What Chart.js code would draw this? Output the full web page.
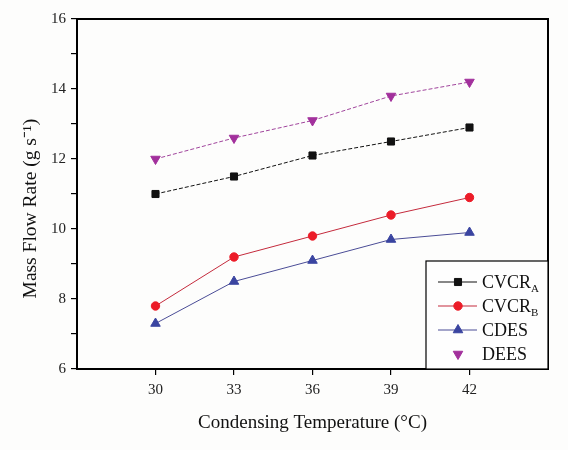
<!DOCTYPE html>
<html>
<head>
<meta charset="utf-8">
<script src="https://cdn.jsdelivr.net/npm/chart.js@4.4.0/dist/chart.umd.min.js"></script>
<style>
  body { margin: 0; background: #fdfdfc; }
  #wrap { width: 568px; height: 450px; }
</style>
</head>
<body>
<div id="wrap"><canvas id="flow" width="568" height="450"></canvas></div>

<script>
// condensing temperature (oC) on x, mass flow rate (g/s) on y
var temps = [30, 33, 36, 39, 42];
var xTicks = [30, 33, 36, 39, 42];
var cvcrA = [11.0, 11.5, 12.1, 12.5, 12.9];
var cvcrB = [7.8, 9.2, 9.8, 10.4, 10.9];
var cdes  = [7.3, 8.5, 9.1, 9.7, 9.9];
var dees  = [12.0, 12.6, 13.1, 13.8, 14.2];
var legendMain = ['CVCR', 'CVCR', 'CDES', 'DEES'];
var legendSub  = ['A', 'B', '', ''];

var serif = '"Liberation Serif", "Times New Roman", serif';

function pts(vals) {
    return temps.map(function (t, i) { return { x: t, y: vals[i] }; });
}

// frame round the plot + legend with subscripts
var framePlugin = {
    id: 'frame',
    afterDraw: function (chart) {
        var ctx = chart.ctx;
        var a = chart.chartArea;
        ctx.save();
        ctx.strokeStyle = '#000';
        ctx.lineWidth = 2;
        ctx.strokeRect(a.left, a.top, a.right - a.left, a.bottom - a.top);

        // legend box
        var bw = 122, bh = 108;
        var bx = a.right - bw, by = a.bottom - bh;
        ctx.fillStyle = '#fefefe';
        ctx.fillRect(bx, by, bw, bh);
        ctx.lineWidth = 1.2;
        ctx.strokeRect(bx, by, bw, bh);

        chart.data.datasets.forEach(function (ds, i) {
            var y = by + 21 + i * 24;
            if (i < 3) {
                ctx.strokeStyle = ds.borderColor;
                ctx.lineWidth = 1;
                ctx.setLineDash([]);
                ctx.beginPath();
                ctx.moveTo(bx + 12, y);
                ctx.lineTo(bx + 51, y);
                ctx.stroke();
            }
            ctx.fillStyle = ds.pointBackgroundColor;
            ctx.strokeStyle = ds.pointBackgroundColor;
            Chart.helpers.drawPoint(ctx, {
                pointStyle: ds.pointStyle,
                rotation: ds.pointRotation || 0,
                radius: ds.pointRadius,
                borderWidth: 1
            }, bx + 32, y);

            ctx.fillStyle = '#111';
            ctx.textBaseline = 'middle';
            ctx.textAlign = 'left';
            ctx.font = '18px ' + serif;
            ctx.fillText(legendMain[i], bx + 56, y + 1);
            if (legendSub[i]) {
                var w = ctx.measureText(legendMain[i]).width;
                ctx.font = '11px ' + serif;
                ctx.fillText(legendSub[i], bx + 56 + w, y + 7);
            }
        });
        ctx.restore();
    }
};

new Chart(document.getElementById('flow'), {
    type: 'line',
    data: {
        datasets: [
            {
                label: 'CVCR_A', data: pts(cvcrA),
                borderColor: '#111', borderWidth: 1, borderDash: [4, 2],
                pointStyle: 'rect', pointRadius: 5,
                pointBackgroundColor: '#111', pointBorderColor: '#111'
            },
            {
                label: 'CVCR_B', data: pts(cvcrB),
                borderColor: '#c42a3c', borderWidth: 1,
                pointStyle: 'circle', pointRadius: 4.2,
                pointBackgroundColor: '#ec1c28', pointBorderColor: '#ec1c28'
            },
            {
                label: 'CDES', data: pts(cdes),
                borderColor: '#4a4c96', borderWidth: 1,
                pointStyle: 'triangle', pointRadius: 5.5,
                pointBackgroundColor: '#3a44a0', pointBorderColor: '#3a44a0'
            },
            {
                label: 'DEES', data: pts(dees),
                borderColor: '#a0449c', borderWidth: 1, borderDash: [4, 2],
                pointStyle: 'triangle', pointRotation: 180, pointRadius: 5.5,
                pointBackgroundColor: '#a2309c', pointBorderColor: '#a2309c'
            }
        ]
    },
    options: {
        responsive: false,
        animation: false,
        layout: { padding: { top: 19, right: 20, left: 0, bottom: 0 } },
        plugins: { legend: { display: false }, tooltip: { enabled: false } },
        scales: {
            x: {
                type: 'linear',
                min: 27,
                max: 45,
                afterBuildTicks: function (scale) {
                    scale.ticks = xTicks.map(function (v) { return { value: v }; });
                },
                afterFit: function (scale) { scale.height = 81; },
                border: { display: true, color: '#000', width: 2 },
                grid: { drawOnChartArea: false, color: '#000', tickLength: 6, lineWidth: 1.2 },
                ticks: { color: '#222', padding: 6, font: { family: serif, size: 15 } },
                title: {
                    display: true,
                    text: 'Condensing Temperature (\u00B0C)',
                    color: '#111',
                    font: { family: serif, size: 19 },
                    padding: { top: 4, bottom: 16 }
                }
            },
            y: {
                min: 6,
                max: 16,
                ticks: {
                    stepSize: 1,
                    color: '#222',
                    padding: 5,
                    font: { family: serif, size: 15 },
                    callback: function (v) { return v % 2 === 0 ? v : ''; }
                },
                afterFit: function (scale) { scale.width = 77; },
                border: { display: true, color: '#000', width: 2 },
                grid: { drawOnChartArea: false, color: '#000', tickLength: 6, lineWidth: 1.2 },
                title: {
                    display: true,
                    // trailing en spaces push the centred text down a little, like the original
                    text: 'Mass Flow Rate (g s\u207B\u00B9)\u2002\u2002\u2002',
                    color: '#111',
                    font: { family: serif, size: 19.5 },
                    padding: { top: 19, bottom: 0 }
                }
            }
        }
    },
    plugins: [framePlugin]
});
</script>
</body>
</html>
